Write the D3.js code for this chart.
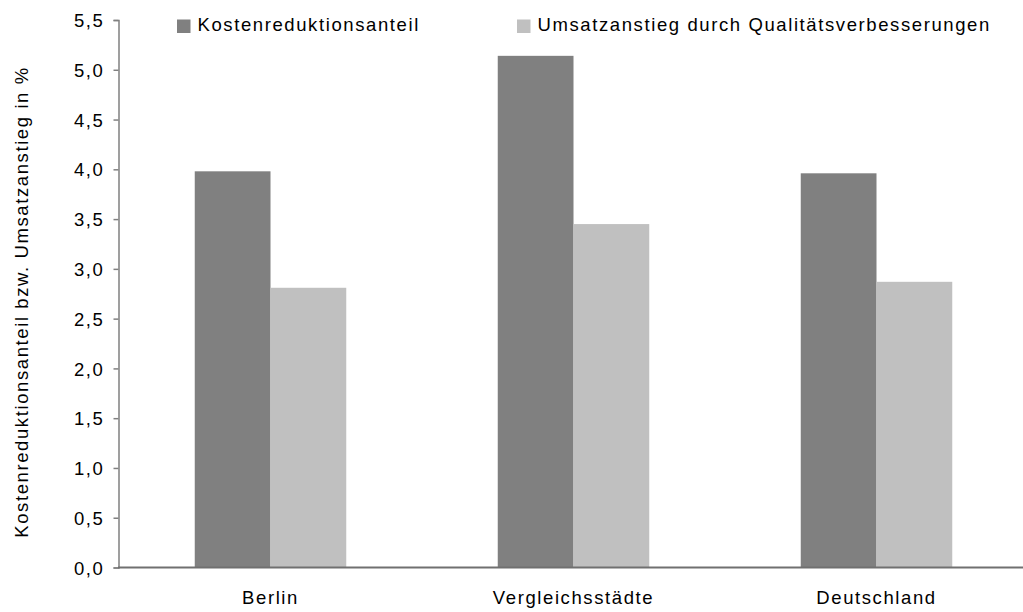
<!DOCTYPE html>
<html><head><meta charset="utf-8">
<script src="https://cdn.jsdelivr.net/npm/d3@7"></script>
<style>
body{margin:0;background:#fff;}
text{font-family:"Liberation Sans",Arial,sans-serif;fill:#000;}
</style></head>
<body><svg id="c" width="1023" height="612"></svg>
<script>
const categories = ["Berlin", "Vergleichsstädte", "Deutschland"];
const seriesNames = ["Kostenreduktionsanteil", "Umsatzanstieg durch Qualitätsverbesserungen"];
const kosten = [3.98, 5.14, 3.96];
const umsatz = [2.81, 3.45, 2.87];
const yTicks = [0, 0.5, 1, 1.5, 2, 2.5, 3, 3.5, 4, 4.5, 5, 5.5];
const yTitle = "Kostenreduktionsanteil bzw. Umsatzanstieg in %";
const colors = ["#808080", "#c0c0c0"];

const svg = d3.select("#c");
const FS = "18.5px", LS = "1.6px";

const y = d3.scaleLinear().domain([0, 5.5]).range([567.5, 20]);
const x0 = d3.scaleBand().domain(categories).range([119, 1028]).paddingInner(0.5).paddingOuter(0.25);
const x1 = d3.scaleBand().domain(seriesNames).range([0, x0.bandwidth()]);

const data = categories.map((c, i) => ({cat: c, vals: [kosten[i], umsatz[i]]}));

// bars
const g = svg.append("g");
data.forEach(d => {
  d.vals.forEach((v, j) => {
    g.append("rect")
      .attr("x", x0(d.cat) + x1(seriesNames[j]))
      .attr("y", y(v))
      .attr("width", x1.bandwidth())
      .attr("height", y(0) - y(v))
      .attr("fill", colors[j]);
  });
});

// y axis
const yAxis = d3.axisLeft(y).tickValues(yTicks).tickSize(5).tickPadding(10)
  .tickFormat(d => d3.format(".1f")(d).replace(".", ","));
const ya = svg.append("g").attr("transform", "translate(118.5,0)").call(yAxis);
ya.select(".domain").attr("stroke", "#808080").attr("stroke-width", 1.5);
ya.selectAll(".tick line").attr("stroke", "#808080").attr("stroke-width", 1.5);
ya.selectAll(".tick text").style("font-size", FS).style("letter-spacing", LS)
  .attr("font-family", null).attr("dy", "0.36em").attr("x", -14);

// x axis line
const xa = svg.append("g").attr("transform", "translate(0,567.5)")
  .call(d3.axisBottom(x0).tickSize(0).tickPadding(0));
xa.select(".domain").attr("d", "M118,0H1023").attr("stroke", "#707070").attr("stroke-width", 2);
xa.selectAll(".tick text").style("font-size", FS).style("letter-spacing", LS)
  .attr("font-family", null).attr("dy", null).attr("y", 36.5);

// y title
svg.append("text")
  .attr("transform", "translate(27.5,302) rotate(-90)")
  .attr("text-anchor", "middle")
  .style("font-size", FS).style("letter-spacing", LS)
  .text(yTitle);

// legend
const legX = [177, 517];
seriesNames.forEach((s, j) => {
  const lg = svg.append("g").attr("transform", `translate(${legX[j]},0)`);
  lg.append("rect").attr("x", 0).attr("y", 19.5).attr("width", 13.5).attr("height", 13.5).attr("fill", colors[j]);
  lg.append("text").attr("x", 20.5).attr("y", 30.5)
    .style("font-size", FS).style("letter-spacing", LS).text(s);
});
</script></body></html>
